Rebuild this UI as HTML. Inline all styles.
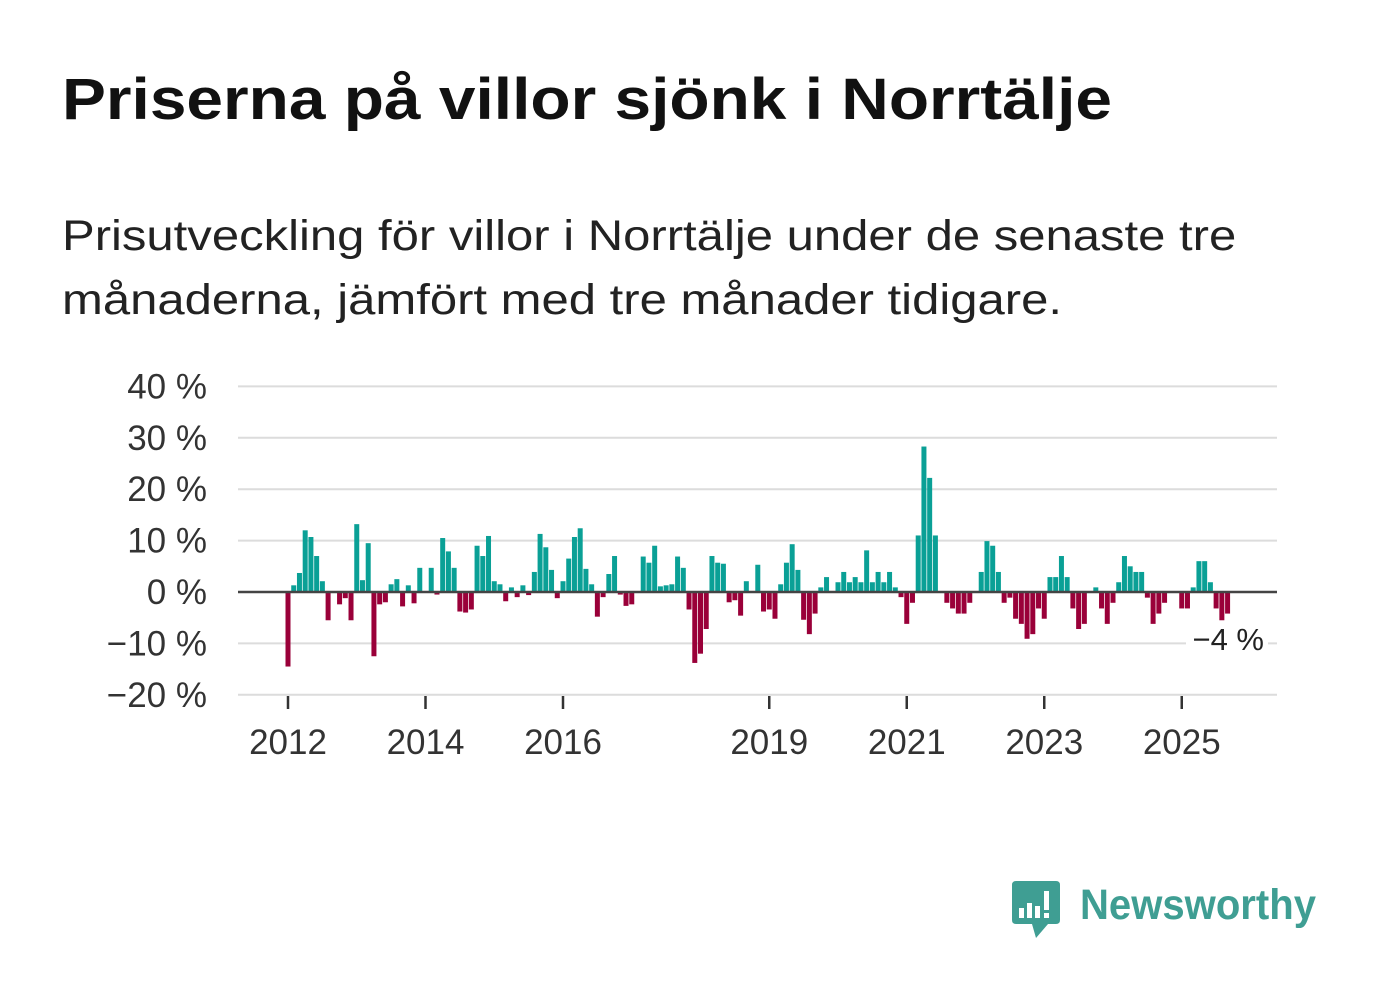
<!DOCTYPE html>
<html><head><meta charset="utf-8">
<style>
body{margin:0;background:#fff;width:1382px;height:999px;overflow:hidden;font-family:"Liberation Sans","DejaVu Sans",sans-serif;}
.ln{position:absolute;left:62px;white-space:nowrap;transform-origin:0 0;}
#title{top:66px;font-size:58px;font-weight:bold;color:#111;transform:scaleX(1.135)}
.sub{font-size:43px;color:#222;transform:scaleX(1.14)}
svg{position:absolute;left:0;top:0}
</style></head><body>
<div id="title" class="ln">Priserna på villor sjönk i Norrtälje</div>
<div class="ln sub" style="top:212px">Prisutveckling för villor i Norrtälje under de senaste tre</div>
<div class="ln sub" style="top:276px">månaderna, jämfört med tre månader tidigare.</div>
<svg id="chart" width="1382" height="999"></svg>
<script>
const startYear = 2012;
const values = [-14.5,1.3,3.7,12,10.7,7,2.1,-5.5,0,-2.4,-1.2,-5.5,13.2,2.3,9.5,-12.5,-2.4,-2,1.5,2.5,-2.8,1.3,-2.2,4.7,0,4.7,-0.5,10.5,7.9,4.7,-3.8,-4,-3.4,9,7,10.9,2.1,1.5,-1.8,0.9,-1,1.3,-0.6,3.9,11.3,8.7,4.3,-1.2,2.1,6.5,10.7,12.4,4.5,1.5,-4.8,-1,3.5,7,-0.5,-2.7,-2.4,0,6.9,5.7,9,1.1,1.3,1.5,6.9,4.7,-3.4,-13.8,-12,-7.2,7,5.7,5.5,-2,-1.6,-4.6,2.1,0,5.3,-3.8,-3.4,-5.2,1.5,5.7,9.3,4.3,-5.4,-8.2,-4.2,0.9,2.9,0,1.9,3.9,1.9,2.9,1.9,8.1,1.9,3.9,1.9,3.9,0.9,-1,-6.2,-2.1,11,28.3,22.2,11,0,-2.1,-3.2,-4.2,-4.2,-2.1,0,3.9,9.9,9,3.9,-2.1,-1.1,-5.2,-6.2,-9.1,-8.2,-3.2,-5.2,2.9,2.9,7,2.9,-3.2,-7.2,-6.2,0,0.9,-3.2,-6.2,-2.1,1.9,7,5,3.9,3.9,-1.1,-6.2,-4.2,-2.1,0,0,-3.2,-3.2,0.9,6,6,1.9,-3.2,-5.5,-4.2];
const yTicks = [40,30,20,10,0,-10,-20];
const yTickLabels = ["40 %","30 %","20 %","10 %","0 %","−10 %","−20 %"];
const xTickYears = [2012,2014,2016,2019,2021,2023,2025];
const lastLabel = "−4 %";

const NS="http://www.w3.org/2000/svg";
const svg=document.getElementById('chart');
const x0=288, pxYear=68.75, left=238, right=1277;
const y0=592, pxPct=5.14;
const xScale=(yr)=>x0+(yr-startYear)*pxYear;
const xIdx=(i)=>xScale(startYear+i/12);
const yScale=(v)=>y0-v*pxPct;
function mk(tag,attrs){const e=document.createElementNS(NS,tag);for(const k in attrs)e.setAttribute(k,attrs[k]);svg.appendChild(e);return e;}

yTicks.forEach((t,i)=>{
  if(t!==0){
    const g=mk('line',{x1:left,x2:right,y1:yScale(t),y2:yScale(t),stroke:'#dcdcdc','stroke-width':2});
    
    
  }
  const tx=mk('text',{x:207,y:yScale(t)+12,'text-anchor':'end','font-size':35,fill:'#333','font-family':'Liberation Sans, sans-serif'});
  tx.textContent=yTickLabels[i];
  
  
});

values.forEach((v,i)=>{
  if(v===0)return;
  const x=xIdx(i);
  const r=mk('rect',{x:x-2.5,width:5,y:Math.min(yScale(v),y0),height:Math.abs(yScale(v)-y0),fill:v>0?'#0aa096':'#9a0039'});
  
  
});

const zl=mk('line',{x1:left,x2:right,y1:y0,y2:y0,stroke:'#444','stroke-width':2.5});



xTickYears.forEach(yr=>{
  const x=xScale(yr);
  const tk=mk('line',{x1:x,x2:x,y1:696,y2:709,stroke:'#333','stroke-width':2.5});
  
  
  const tx=mk('text',{x:x,y:754,'text-anchor':'middle','font-size':35,fill:'#333','font-family':'Liberation Sans, sans-serif'});
  tx.textContent=String(yr);
  
  
});

const bg=mk('rect',{x:1186,y:622,width:82,height:34,fill:'#fff'});


const lt=mk('text',{x:1264,y:650,'text-anchor':'end','font-size':31,fill:'#222','font-family':'Liberation Sans, sans-serif'});
lt.textContent=lastLabel;


</script>
<svg width="1382" height="999" style="position:absolute;left:0;top:0;pointer-events:none">
  <path d="M1016 881 H1056 Q1060 881 1060 885 V920 Q1060 924 1056 924 H1048 L1036 938 L1032 924 H1016 Q1012 924 1012 920 V885 Q1012 881 1016 881 Z" fill="#3f9e93"/>
  <rect x="1019" y="908" width="5" height="10" fill="#fff"/>
  <rect x="1027" y="903" width="5" height="15" fill="#fff"/>
  <rect x="1035" y="906" width="5" height="12" fill="#fff"/>
  <rect x="1044" y="891" width="5" height="19" fill="#fff"/>
  <rect x="1044" y="913" width="5" height="5" fill="#fff"/>
  <text x="1080" y="919" font-size="43" font-weight="bold" fill="#3f9e93" font-family="Liberation Sans, sans-serif" textLength="236" lengthAdjust="spacingAndGlyphs">Newsworthy</text>
</svg>
</body></html>
